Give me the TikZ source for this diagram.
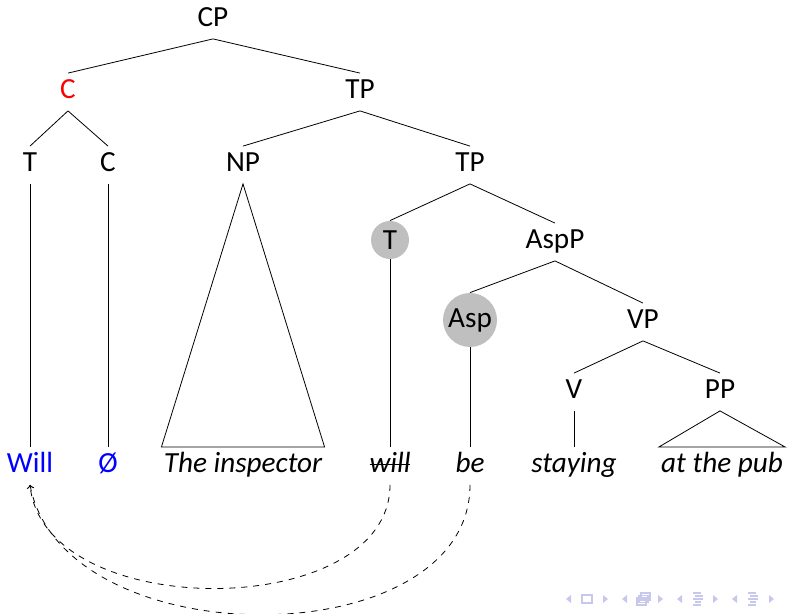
\documentclass[tikz,border=0pt]{standalone}
\usepackage{fontspec}
\setmainfont{Carlito}
\usetikzlibrary{positioning}
\definecolor{navblue}{RGB}{200,200,236}
\newcommand{\strikeword}[1]{\setbox0\hbox{#1}\rlap{\raisebox{0.55ex}{\rule{\wd0}{0.6pt}}}\box0}

\begin{document}
\begin{tikzpicture}[
    x=0.5pt, y=-0.5pt,
    font=\fontsize{14.6}{17}\selectfont,
    cat/.style={inner xsep=1pt, inner ysep=3.5pt, text height=9pt, text depth=2.5pt},
    word/.style={cat, font=\fontsize{14.6}{17}\selectfont\itshape},
    moved/.style={circle, fill=black!25, inner sep=0pt},
    move/.style={->, dashed}
]
    \useasboundingbox (0,0) rectangle (787,614);

    % categories
    \node[cat] (cp) at (213,20) {CP};
    \node[cat, text=red] (c) at (68,92) {C};
    \node[cat] (tp) at (360,92) {TP};
    \node[cat] (t) at (30,165) {T};
    \node[cat] (cnull) at (108,165) {C};
    \node[cat] (np) at (243,165) {NP};
    \node[cat] (tbar) at (470,165) {TP};
    \node[moved, minimum size=19pt] (tlow) at (390,240) {T};
    \node[cat] (aspp) at (555,242) {AspP};
    \node[moved, minimum size=27pt] (asp) at (470,320) {Asp};
    \node[cat] (vp) at (643,322) {VP};
    \node[cat] (v) at (574,392) {V};
    \node[cat] (pp) at (720,392) {PP};

    % words
    \node[cat, text=blue] (will) at (30,466) {Will};
    \node[cat, text=blue] (null) at (108,466) {Ø};
    \node[word] (insp) at (243,466) {The inspector};
    \node[word] (wtrace) at (390,466) {\strikeword{will}};
    \node[word] (be) at (470,466) {be};
    \node[word] (stay) at (574,466) {staying};
    \node[word] (pub) at (722,466) {at the pub};

    % branches
    \draw (cp.south) -- (c.north);
    \draw (cp.south) -- (tp.north);
    \draw (c.south) -- (t.north);
    \draw (c.south) -- (cnull.north);
    \draw (tp.south) -- (np.north);
    \draw (tp.south) -- (tbar.north);
    \draw (tbar.south) -- (tlow.north);
    \draw (tbar.south) -- (aspp.north);
    \draw (aspp.south) -- (asp.north);
    \draw (aspp.south) -- (vp.north);
    \draw (vp.south) -- (v.north);
    \draw (vp.south) -- (pp.north);

    \draw (t.south) -- (will.north);
    \draw (cnull.south) -- (null.north);
    \draw (tlow.south) -- (wtrace.north);
    \draw (asp.south) -- (be.north);
    \draw (v.south) -- (stay.north);
    \draw (np.south) -- (insp.north west) -- (insp.north east) -- cycle;
    \draw (pp.south) -- (pub.north west) -- (pub.north east) -- cycle;

    % head movement
    \draw[move] (wtrace.south) .. controls +(0,137) and +(14,139) .. (will.south);
    \draw[move] (be.south) .. controls +(0,172) and +(34,174) .. (will.south);

    % navigation symbols
    \begin{scope}[navblue, line width=0.6pt]
        \foreach \x in {568,624,679,734}
            \fill (\x-2,599) -- (\x+3,595) -- (\x+3,603) -- cycle;
        \foreach \x in {606,661,716,772}
            \fill (\x+2,599) -- (\x-3,595) -- (\x-3,603) -- cycle;
        \draw (582,595) rectangle (592,603);
        \draw (637,598) rectangle (646,605);
        \draw (639,595.5) rectangle (648,602.5);
        \draw (641,593) rectangle (650,600);
        \foreach \x in {698,753} {
            \draw (\x-5,593) -- (\x+3,593);
            \draw (\x-3,596) -- (\x+5,596);
            \draw (\x-5,599) -- (\x+5,599);
            \draw (\x-3,602) -- (\x+3,602);
            \draw (\x-5,605) -- (\x+3,605);
        }
    \end{scope}
\end{tikzpicture}
\end{document}
